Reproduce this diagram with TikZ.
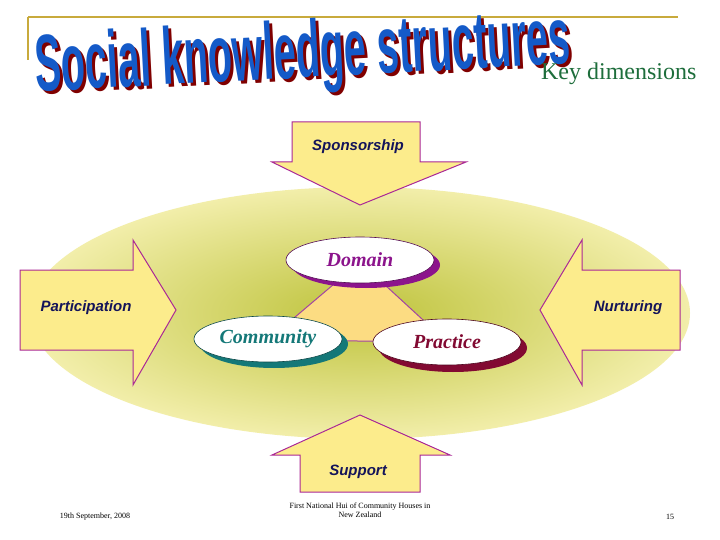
\documentclass[tikz,border=0pt]{standalone}
\usepackage{fontspec}
\setmainfont{Liberation Serif}
\newfontfamily\lsans{Liberation Sans}
\usetikzlibrary{shapes.geometric}
\definecolor{gold}{RGB}{200,170,60}
\definecolor{titleblue}{RGB}{20,90,200}
\definecolor{keygreen}{RGB}{30,110,60}
\definecolor{arrfill}{RGB}{252,236,140}
\definecolor{arredge}{RGB}{170,40,150}
\definecolor{elcenter}{RGB}{190,195,60}
\definecolor{eledge}{RGB}{242,238,170}
\definecolor{trifill}{RGB}{252,220,130}
\definecolor{domc}{RGB}{140,20,140}
\definecolor{comc}{RGB}{20,120,120}
\definecolor{prac}{RGB}{130,10,50}
\definecolor{lbl}{RGB}{20,20,90}
\tikzset{
 bigarrow/.style={draw=arredge,fill=arrfill,line width=1pt},
 arrlabel/.style={font=\lsans\bfseries\itshape\fontsize{15}{17}\selectfont,text=lbl},
 oval/.style={ellipse,draw=#1!60!black,fill=white,minimum width=148pt,minimum height=46pt,line width=0.6pt},
 foot/.style={font=\fontsize{8}{9}\selectfont,align=center},
 titletext/.style={rotate=3,xscale=0.86,yscale=1.75,font=\lsans\bfseries\fontsize{46}{50}\selectfont}
}
\begin{document}
\begin{tikzpicture}[x=1pt,y=-1pt]
\useasboundingbox (0,0) rectangle (720,540);
\fill[white] (0,0) rectangle (720,540);
\draw[gold,line width=1.2pt] (28,17) -- (678,17);
\draw[gold,line width=1.2pt] (28,17) -- (28,60);
\node[titletext,text=red!50!black] (tsh) at (306,60) {Social knowledge structures};
\node[titletext,text=titleblue] (title) at (303,57) {Social knowledge structures};
\node[font=\fontsize{24}{26}\selectfont,text=keygreen,anchor=east] (key) at (700,74) {Key dimensions};
\shade[inner color=elcenter,outer color=eledge] (360,313) ellipse [x radius=330,y radius=126];
\coordinate (d) at (360,262);
\coordinate (c) at (268,340);
\coordinate (p) at (447,342);
\filldraw[fill=trifill,draw=domc!80!white,line width=1pt] (d) -- (c) -- (p) -- cycle;
\fill[domc] (366,265) ellipse [x radius=74,y radius=23];
\node[oval=domc] (dom) at (360,260) {};
\node[font=\itshape\bfseries\fontsize{20}{22}\selectfont,text=domc] at (dom) {Domain};
\fill[comc] (274,344) ellipse [x radius=74,y radius=24];
\node[oval=comc] (com) at (268,339) {};
\node[font=\itshape\bfseries\fontsize{20}{22}\selectfont,text=comc] at (com) {Community};
\fill[prac] (453,348) ellipse [x radius=74,y radius=24];
\node[oval=prac] (pra) at (447,342) {};
\node[font=\itshape\bfseries\fontsize{20}{22}\selectfont,text=prac] at (pra) {Practice};
\draw[bigarrow] (292,122) -- (420,122) -- (420,162) -- (466,162) -- (360,205) -- (272,162) -- (292,162) -- cycle;
\node[arrlabel] (spon) at (358,147) {Sponsorship};
\draw[bigarrow] (300,492) -- (420,492) -- (420,455) -- (450,455) -- (360,415) -- (272,455) -- (300,455) -- cycle;
\node[arrlabel] (supp) at (358,472) {Support};
\draw[bigarrow] (20,270) -- (133,270) -- (133,240) -- (176,310) -- (133,385) -- (133,350) -- (20,350) -- cycle;
\node[arrlabel] (part) at (86,308) {Participation};
\draw[bigarrow] (680,270) -- (582,270) -- (582,240) -- (540,310) -- (582,385) -- (582,350) -- (680,350) -- cycle;
\node[arrlabel] (nurt) at (628,308) {Nurturing};
\node[foot] (f1) at (95,517) {19th September, 2008};
\node[foot] (f2) at (360,510) {First National Hui of Community Houses in\\New Zealand};
\node[foot] (f3) at (670,517) {15};
\end{tikzpicture}
\end{document}
